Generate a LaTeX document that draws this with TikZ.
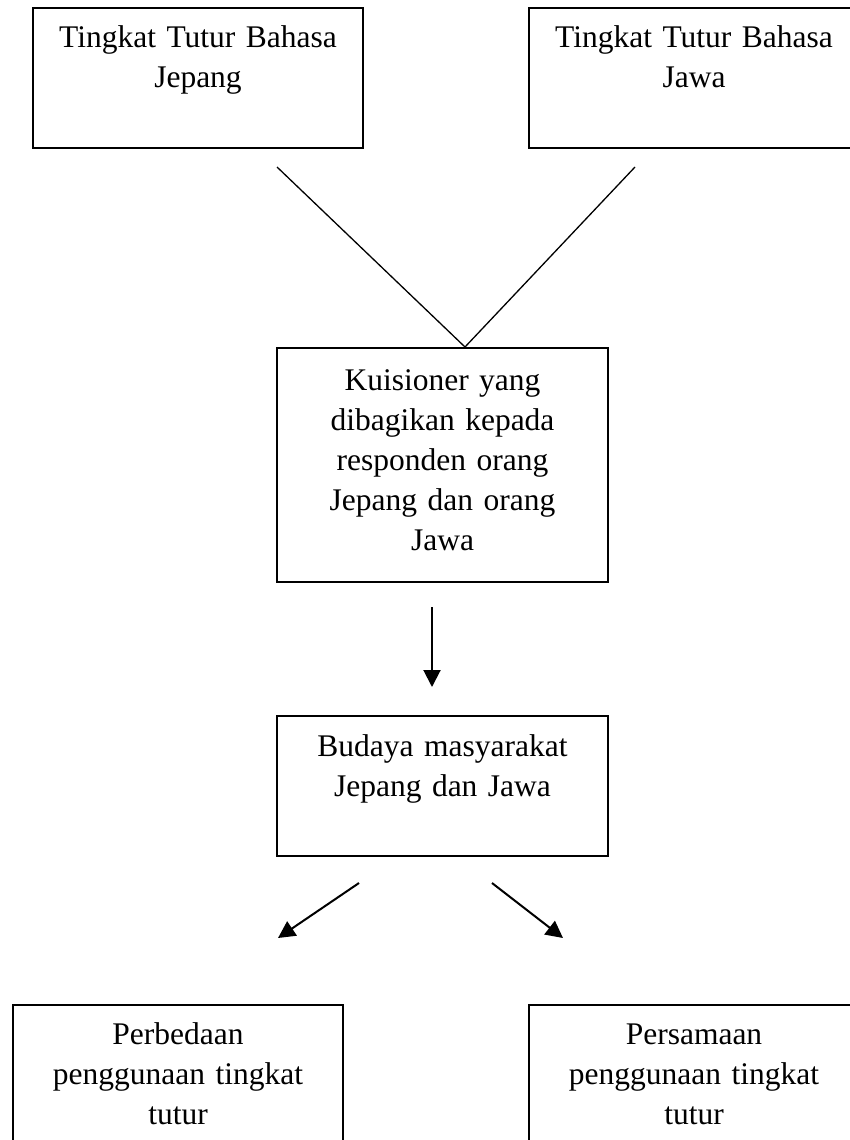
\documentclass[tikz,border=0pt]{standalone}
\usepackage{fontspec}
\setmainfont{Liberation Serif}
\usetikzlibrary{arrows.meta}
\begin{document}
\begin{tikzpicture}[x=1pt,y=-1pt,
  kotak/.style={draw,line width=2pt,anchor=north,inner sep=0pt,align=center,
    text width=330pt,font=\fontsize{31.5}{40}\selectfont},
  garis/.style={line width=1.3pt},
  panah/.style={line width=2pt,-{Triangle[length=17pt,width=17pt]}}]
  \useasboundingbox (0,0) rectangle (849,1140);

  \node[kotak,text height=40pt,text depth=100pt] (jepang) at (198,7) {Tingkat Tutur Bahasa\\Jepang};
  \node[kotak,text height=40pt,text depth=100pt] (jawa) at (694,7) {Tingkat Tutur Bahasa\\Jawa};
  \node[kotak,text width=331pt,text height=42pt,text depth=192pt] (kuisioner) at (442.5,347)
    {Kuisioner yang\\dibagikan kepada\\responden orang\\Jepang dan orang\\Jawa};
  \node[kotak,text width=331pt,text height=40pt,text depth=100pt] (budaya) at (442.5,715)
    {Budaya masyarakat\\Jepang dan Jawa};
  \node[kotak,text height=39pt,text depth=140pt] (perbedaan) at (178,1004)
    {Perbedaan\\penggunaan tingkat\\tutur};
  \node[kotak,text height=39pt,text depth=140pt] (persamaan) at (694,1004)
    {Persamaan\\penggunaan tingkat\\tutur};

  % ujung garis dan panah
  \coordinate (kiri) at (277,167);
  \coordinate (kanan) at (635,167);
  \coordinate (puncak) at (465,347);
  \coordinate (turun1) at (432,607);
  \coordinate (turun2) at (432,687);
  \coordinate (cabang1) at (359,883);
  \coordinate (ujung1) at (278,938);
  \coordinate (cabang2) at (492,883);
  \coordinate (ujung2) at (563,938);

  \draw[garis] (kiri) -- (puncak);
  \draw[garis] (kanan) -- (puncak);
  \draw[panah] (turun1) -- (turun2);
  \draw[panah] (cabang1) -- (ujung1);
  \draw[panah] (cabang2) -- (ujung2);
\end{tikzpicture}
\end{document}
